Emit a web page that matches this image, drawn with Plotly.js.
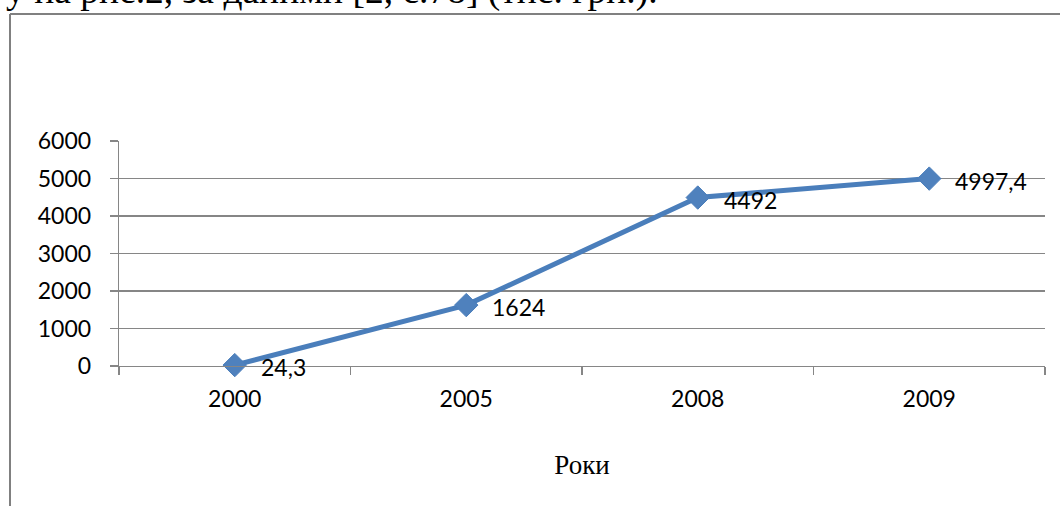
<!DOCTYPE html>
<html>
<head>
<meta charset="utf-8">
<script src="https://cdn.plot.ly/plotly-3.0.1.min.js"></script>
<style>
  html, body { margin: 0; padding: 0; background: #ffffff; }
  #chart { width: 1060px; height: 506px; }
</style>
</head>
<body>
<div id="chart"></div>
<script>
// ---- data ----
var years = ["2000", "2005", "2008", "2009"];
var values = [24.3, 1624, 4492, 4997.4];
var valueLabels = ["24,3", "1624", "4492", "4997,4"];
var yTickValues = [0, 1000, 2000, 3000, 4000, 5000, 6000];
var yTickLabels = ["0", "1000", "2000", "3000", "4000", "5000", "6000"];
var xTitle = "Роки";
var topText = "у на рис.2, за даними [2, с.78] (тис. грн.).";

// ---- layout geometry ----
var W = 1060, H = 506;
var mL = 119, mR = 15, mT = 141, mB = 140;
var pw = W - mL - mR, ph = H - mT - mB;
function px2x(px) { return (px - mL) / pw; }
function py2y(py) { return (H - mB - py) / ph; }

var lineColor = "#4a7ebb";
var gridColor = "#868686";
var sansFont = "Lato, 'Open Sans', sans-serif";
var serifFont = "'Liberation Serif', 'DejaVu Serif', serif";

var trace = {
  type: "scatter",
  mode: "lines+markers",
  x: years,
  y: values,
  line: { color: lineColor, width: 5 },
  marker: { symbol: "diamond", size: 18, color: "#4f81bd", line: { color: lineColor, width: 1 } },
  hoverinfo: "skip",
  showlegend: false,
  cliponaxis: false
};

// category axis: annotations are placed by category index
var annotations = years.map(function (yr, i) {
  return {
    xref: "x", yref: "y", x: i, y: values[i],
    text: valueLabels[i], showarrow: false,
    xanchor: "left", yanchor: "middle",
    xshift: 24, yshift: -2,
    font: { family: sansFont, size: 23, color: "#000000" }
  };
});

annotations.push({
  xref: "paper", yref: "paper",
  x: px2x(4), y: py2y(14),
  xanchor: "left", yanchor: "bottom",
  text: topText, showarrow: false,
  font: { family: serifFont, size: 37.5, color: "#000000" }
});

var shapes = [
  { type: "line", xref: "paper", yref: "paper",
    x0: px2x(10), x1: px2x(10), y0: py2y(14), y1: py2y(520),
    line: { color: "#808080", width: 2 } },
  { type: "line", xref: "paper", yref: "paper",
    x0: px2x(10), x1: px2x(1070), y0: py2y(14), y1: py2y(14),
    line: { color: "#808080", width: 2 } }
];

var layout = {
  width: W, height: H,
  margin: { l: mL, r: mR, t: mT, b: mB, pad: 0 },
  paper_bgcolor: "#ffffff",
  plot_bgcolor: "#ffffff",
  font: { family: sansFont, size: 23, color: "#000000" },
  showlegend: false,
  xaxis: {
    type: "category",
    range: [-0.5, 3.5],
    tickson: "boundaries",
    ticks: "outside",
    ticklen: 8,
    tickwidth: 1.3,
    tickcolor: gridColor,
    showline: true,
    linecolor: gridColor,
    linewidth: 1.3,
    showgrid: false,
    zeroline: false,
    ticklabelstandoff: 12,
    tickfont: { family: sansFont, size: 23, color: "#000000" },
    title: { text: xTitle, standoff: 44, font: { family: serifFont, size: 27, color: "#000000" } },
    automargin: false,
    fixedrange: true
  },
  yaxis: {
    range: [0, 6000],
    tickmode: "array",
    tickvals: yTickValues,
    ticktext: yTickLabels,
    ticks: "outside",
    ticklen: 8,
    tickwidth: 1.3,
    tickcolor: gridColor,
    showline: true,
    linecolor: gridColor,
    linewidth: 1.3,
    showgrid: true,
    gridcolor: gridColor,
    gridwidth: 1.3,
    zeroline: false,
    ticklabelstandoff: 14,
    tickfont: { family: sansFont, size: 23, color: "#000000" },
    automargin: false,
    fixedrange: true
  },
  annotations: annotations,
  shapes: shapes
};

Plotly.newPlot("chart", [trace], layout, { staticPlot: true, displayModeBar: false });
</script>
</body>
</html>
